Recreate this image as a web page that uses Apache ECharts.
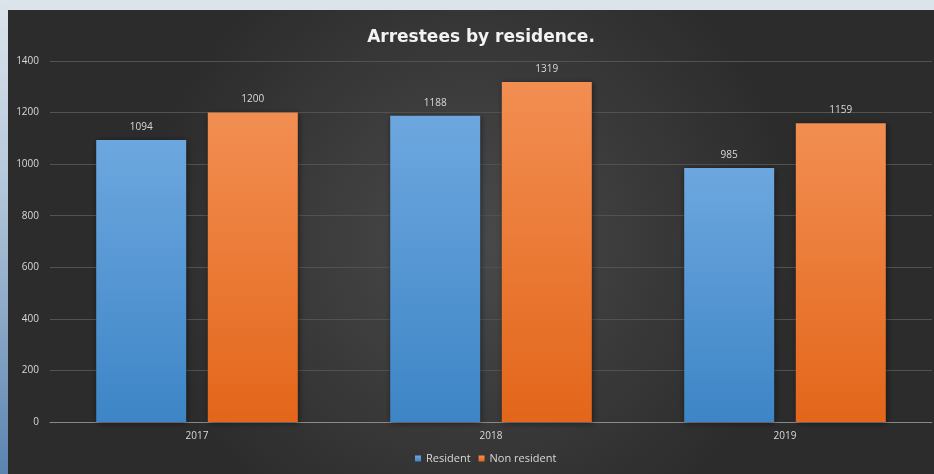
<!DOCTYPE html>
<html>
<head>
<meta charset="utf-8">
<script src="https://cdn.jsdelivr.net/npm/echarts@6/dist/echarts.min.js"></script>
<style>
html,body{margin:0;padding:0;background:#dce3ea;}
#chart{width:934px;height:474px;}
</style>
</head>
<body>
<div id="chart"></div>
<script>
const categories = ['2017', '2018', '2019'];
const residentValues = [1094, 1188, 985];
const nonResidentValues = [1200, 1319, 1159];
const seriesNames = ['Resident', 'Non resident'];
const titleText = 'Arrestees by residence.';

const chart = echarts.init(document.getElementById('chart'));
const labelStyle = { show: true, position: 'top', color: '#d9d9d9', fontSize: 10, fontFamily: 'Open Sans', distance: 8 };
chart.setOption({
  backgroundColor: 'transparent',
  animation: false,
  graphic: [
    { type: 'rect', z: -10, silent: true, shape: { x: 0, y: 0, width: 934, height: 474 },
      style: { fill: new echarts.graphic.LinearGradient(0, 0, 0, 1, [
        { offset: 0, color: '#dde4eb' }, { offset: 0.4, color: '#b3c6da' }, { offset: 1, color: '#5a84b0' }]) } },
    { type: 'rect', z: -8, silent: true, shape: { x: 8, y: 10, width: 926, height: 464 },
      style: { fill: new echarts.graphic.RadialGradient(0.5, 0.5, 0.7, [
        { offset: 0, color: '#4a4a4a' }, { offset: 1, color: '#2c2c2c' }]) } },
    { type: 'rect', z: -9, silent: true, shape: { x: 8, y: 0, width: 926, height: 10 },
      style: { fill: '#dce3ea' } }
  ],
  title: {
    text: titleText, left: 476, top: 24, textAlign: 'center',
    textStyle: { color: '#f2f2f2', fontSize: 17, fontWeight: 'bold', fontFamily: 'DejaVu Sans' }
  },
  legend: {
    data: seriesNames, bottom: 5, left: 410, itemWidth: 6, itemHeight: 6, itemGap: 8,
    icon: 'rect', textStyle: { color: '#d9d9d9', fontSize: 11, fontFamily: 'Open Sans' }
  },
  grid: { left: 50, right: 2, top: 61, bottom: 52, containLabel: false },
  xAxis: {
    type: 'category', data: categories,
    axisLine: { lineStyle: { color: '#8a8a8a' } },
    axisTick: { show: false },
    axisLabel: { color: '#d9d9d9', fontSize: 10, fontFamily: 'Open Sans', margin: 9 }
  },
  yAxis: {
    type: 'value', min: 0, max: 1400, interval: 200,
    axisLine: { show: false }, axisTick: { show: false },
    axisLabel: { color: '#d9d9d9', fontSize: 10, fontFamily: 'Open Sans', margin: 11,
      formatter: function (v) { return String(v); } },
    splitLine: { lineStyle: { color: '#525252', width: 1 } }
  },
  series: [
    { name: seriesNames[0], type: 'bar', data: residentValues, barWidth: 90, barGap: '24%',
      label: labelStyle,
      itemStyle: {
        color: new echarts.graphic.LinearGradient(0, 0, 0, 1, [
          { offset: 0, color: '#6da7df' }, { offset: 1, color: '#3d85c6' }]),
        shadowColor: 'rgba(0,0,0,0.5)', shadowBlur: 6, shadowOffsetX: 1, shadowOffsetY: 1
      } },
    { name: seriesNames[1], type: 'bar', data: nonResidentValues, barWidth: 90,
      label: labelStyle,
      itemStyle: {
        color: new echarts.graphic.LinearGradient(0, 0, 0, 1, [
          { offset: 0, color: '#f28e52' }, { offset: 1, color: '#e3661a' }]),
        shadowColor: 'rgba(0,0,0,0.5)', shadowBlur: 6, shadowOffsetX: 1, shadowOffsetY: 1
      } }
  ]
});
</script>
</body>
</html>
